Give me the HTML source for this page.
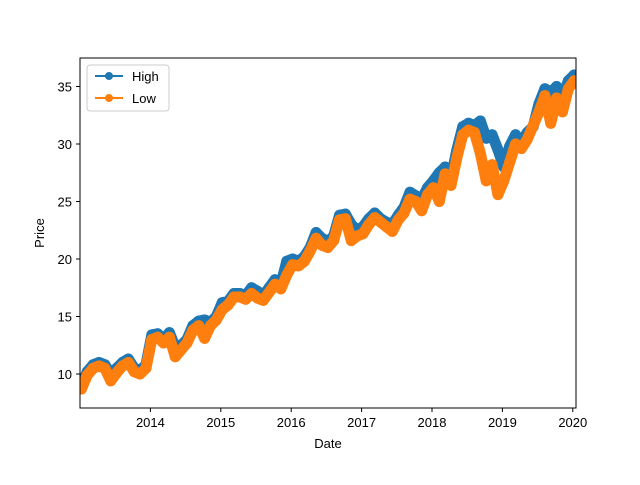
<!DOCTYPE html>
<html><head><meta charset="utf-8"><style>
body{margin:0;background:#fff;}
svg text{font-family:"Liberation Sans","DejaVu Sans",sans-serif;font-size:13px;fill:#000;}
</style></head><body>
<svg width="640" height="480" xmlns="http://www.w3.org/2000/svg">
<rect width="640" height="480" fill="#fff"/>
<g id="plot"></g>
<rect x="80" y="58" width="496" height="350" fill="none" stroke="#000" stroke-width="1"/>
<g id="axes"></g>
<text x="328" y="448" text-anchor="middle">Date</text>
<text x="44" y="233" text-anchor="middle" transform="rotate(-90 44 233)">Price</text>
<g>
<rect x="87" y="65" width="82" height="46" rx="3" fill="#fff" fill-opacity="0.8" stroke="#ccc"/>
<g>
<line x1="95" y1="76" x2="123" y2="76" stroke="#1f77b4" stroke-width="2"/><circle cx="109" cy="76" r="4" fill="#1f77b4"/>
<text x="132" y="81">High</text></g>
<g>
<line x1="95" y1="98" x2="123" y2="98" stroke="#ff7f0e" stroke-width="2"/><circle cx="109" cy="98" r="4" fill="#ff7f0e"/>
<text x="132" y="103">Low</text></g>
</g>
</svg>
<script>
const highs=[9.0,10.2,10.8,11.0,10.8,10.0,10.5,11.0,11.3,10.5,10.3,10.8,
13.4,13.5,13.0,13.6,12.3,12.5,13.0,14.2,14.6,14.7,14.5,15.0,
16.2,16.3,17.0,17.0,16.8,17.5,17.2,16.8,17.5,18.2,17.8,19.8,
20.0,19.8,20.2,21.0,22.3,21.8,21.5,22.0,23.8,23.9,23.0,22.5,
22.8,23.5,24.0,23.5,23.2,23.0,23.8,24.5,25.8,25.5,25.2,26.2,
26.8,27.5,28.0,27.0,29.5,31.5,31.8,31.6,32.0,30.5,30.8,29.5,
28.0,29.8,30.8,30.2,31.0,31.5,33.5,34.8,34.5,35.0,34.0,35.5,36.0];
const lows=[8.7,9.9,10.5,10.7,10.5,9.4,10.1,10.7,11.0,10.2,10.0,10.5,
13.0,13.2,12.7,13.2,11.5,12.1,12.7,13.8,14.2,13.1,14.2,14.7,
15.6,16.0,16.7,16.7,16.5,17.0,16.6,16.4,17.1,17.8,17.4,18.6,
19.5,19.4,19.8,20.7,21.8,21.2,21.0,21.6,23.4,23.5,21.6,22.0,
22.2,23.0,23.6,23.2,22.8,22.4,23.4,24.0,25.2,25.0,24.2,25.6,
26.2,25.0,27.4,26.4,28.8,30.8,31.2,31.0,29.2,26.8,28.2,25.6,
26.8,28.4,30.0,29.6,30.4,31.6,32.8,34.2,31.8,34.0,32.8,34.8,35.5];
const xTicks=[2014,2015,2016,2017,2018,2019,2020];
const yTicks=[10,15,20,25,30,35];
const NS='http://www.w3.org/2000/svg';
const xS=t=>80+(t-2013.0)*70.4;
const yS=v=>374-(v-10)*11.5;
const plot=document.getElementById('plot'),axes=document.getElementById('axes');
function mk(tag,a,parent){const e=document.createElementNS(NS,tag);for(const k in a)e.setAttribute(k,a[k]);parent.appendChild(e);return e;}
const clip=mk('clipPath',{id:'c'},plot);mk('rect',{x:80,y:58,width:496,height:350},clip);
function series(vals,color,name){
 const g=mk('g',{'clip-path':'url(#c)'},plot);
 
 
 const pts=vals.map((v,i)=>xS(2013.02+i/12)+','+yS(v)).join(' ');
 mk('polyline',{points:pts,fill:'none',stroke:color,'stroke-width':11,'stroke-linejoin':'round','stroke-linecap':'round'},g);
 vals.forEach((v,i)=>{const c=mk('circle',{cx:xS(2013.02+i/12),cy:yS(v),r:5.5,fill:color},g);
 
 });
}
series(highs,'#1f77b4','series-high');
series(lows,'#ff7f0e','series-low');
xTicks.forEach(t=>{const x=xS(t);
 const l=mk('line',{x1:x,x2:x,y1:408,y2:412,stroke:'#000'},axes);
 
 
 const tx=mk('text',{x:x,y:427,'text-anchor':'middle'},axes);tx.textContent=t;
 
 });
yTicks.forEach(v=>{const y=yS(v);
 const l=mk('line',{x1:76,x2:80,y1:y,y2:y,stroke:'#000'},axes);
 
 
 const tx=mk('text',{x:72,y:y+5,'text-anchor':'end'},axes);tx.textContent=v;
 
 });
</script>
</body></html>
